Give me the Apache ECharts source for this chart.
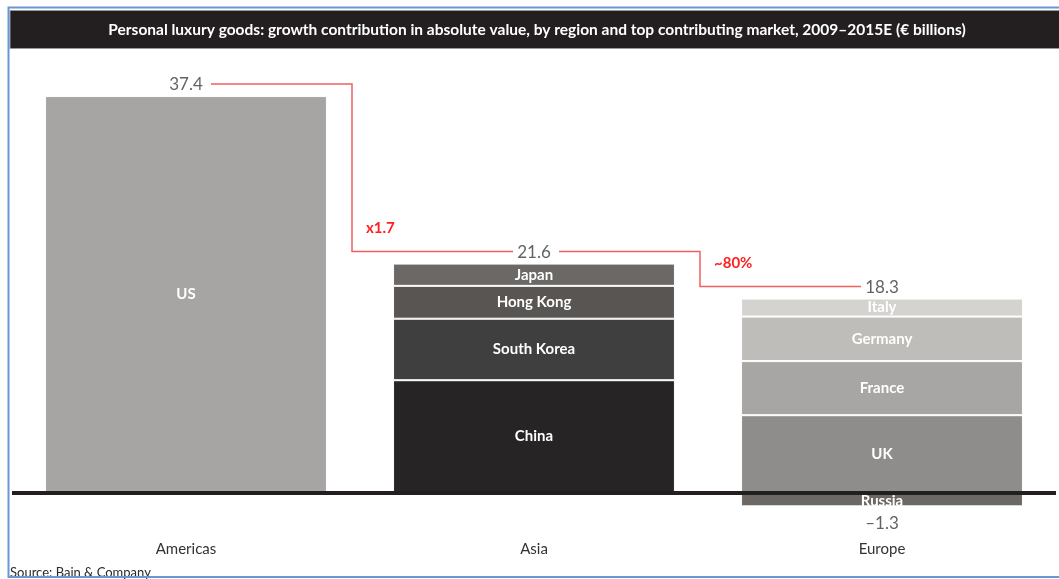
<!DOCTYPE html>
<html>
<head>
<meta charset="utf-8">
<script src="https://cdn.jsdelivr.net/npm/echarts@6/dist/echarts.min.js"></script>
<style>
  html, body { margin: 0; padding: 0; background: #fff; }
  #chart { width: 1059px; height: 579px; }
</style>
</head>
<body>
<div id="chart"></div>
<script>
// Headline and source text
const titleText = 'Personal luxury goods: growth contribution in absolute value, by region and top contributing market, 2009–2015E (€ billions)';
const sourceText = 'Source: Bain & Company';

// Regions (x categories) and their net growth contribution
const regions = ['Americas', 'Asia', 'Europe'];
const regionTotals = [37.4, 21.6, 18.3];
const regionDeclines = [null, null, -1.3];
const growthRatios = ['x1.7', '~80%'];

// Top contributing markets, stacked bottom-up inside each region
const marketNames  = ['US', 'China', 'South Korea', 'Hong Kong', 'Japan', 'UK', 'France', 'Germany', 'Italy', 'Russia'];
const marketRegion = [0, 1, 1, 1, 1, 2, 2, 2, 2, 2];
const marketValues = [37.4, 10.6, 5.8, 3.1, 2.1, 7.3, 5.1, 4.2, 1.7, -1.3];
const marketColors = ['#a7a5a3', '#262424', '#403f3f', '#585553', '#6b6865',
                      '#8f8d8b', '#a8a6a4', '#bfbdb9', '#d4d3cf', '#6b6865'];

const FONT = 'Lato, "Open Sans", "DejaVu Sans", sans-serif';
const chart = echarts.init(document.getElementById('chart'), null, { renderer: 'canvas' });

const marketSeries = marketNames.map((name, k) => ({
  name: name,
  type: 'bar',
  stack: 'region',
  barWidth: '81%',
  silent: true,
  data: regions.map((_, r) => (r === marketRegion[k] ? marketValues[k] : '-')),
  itemStyle: { color: marketColors[k], borderColor: '#ffffff', borderWidth: 1 },
  label: {
    show: true, position: 'inside', formatter: '{a}',
    // labels of negative segments sit just clear of the zero line
    offset: marketValues[k] < 0 ? [0, 2] : [0, 0],
    color: '#ffffff', fontFamily: FONT, fontWeight: 'bold', fontSize: 15
  }
}));

// Region totals printed above each stack, plus the bold zero line
const totalSeries = {
  type: 'scatter',
  symbolSize: 0,
  silent: true,
  z: 5,
  data: regionTotals.map((v, i) => [i, v]),
  label: {
    show: true, position: 'top', distance: 3,
    formatter: p => p.value[1].toFixed(1),
    color: '#3a3a3a', fontFamily: FONT, fontSize: 17
  },
  markLine: {
    silent: true, symbol: 'none', animation: false,
    label: { show: false },
    lineStyle: { color: '#231f20', width: 4, type: 'solid' },
    data: [{ yAxis: 0 }]
  }
};

// Negative contributions printed below the stack
const declineSeries = {
  type: 'scatter',
  symbolSize: 0,
  silent: true,
  z: 5,
  data: regionDeclines.map((v, i) => (v == null ? null : [i, v])).filter(d => d),
  label: {
    show: true, position: 'bottom', distance: 9,
    formatter: p => '–' + Math.abs(p.value[1]).toFixed(1),
    color: '#3a3a3a', fontFamily: FONT, fontSize: 17
  }
};

// Red step connectors between consecutive region totals, with the ratio note
const connectorSeries = {
  type: 'custom',
  silent: true,
  z: 6,
  data: regionTotals.slice(0, -1).map((v, i) => [i, v, regionTotals[i + 1]]),
  renderItem: (params, api) => {
    const i = api.value(0);
    const p1 = api.coord([i, api.value(1)]);
    const p2 = api.coord([i + 1, api.value(2)]);
    const y1 = p1[1] - 12;
    const y2 = p2[1] - 12;
    const xm = (p1[0] + p2[0]) / 2 - 8;
    return {
      type: 'group',
      children: [
        {
          type: 'polyline',
          shape: { points: [[p1[0] + 25, y1], [xm, y1], [xm, y2], [p2[0] - 21, y2]] },
          style: { stroke: '#f25f5f', lineWidth: 1.5, fill: 'none' }
        },
        {
          type: 'text',
          x: xm + 14, y: y2 - 23,
          style: {
            text: growthRatios[params.dataIndex],
            fill: '#ff2020', fontFamily: FONT, fontWeight: 'bold', fontSize: 15,
            align: 'left', verticalAlign: 'middle'
          }
        }
      ]
    };
  }
};

chart.setOption({
  animation: false,
  grid: { left: 12, right: 3, top: 68.5, bottom: 44 },
  xAxis: {
    type: 'category',
    data: regions,
    axisLine: { show: false, onZero: false },
    axisTick: { show: false },
    axisLabel: { margin: 7, color: '#333333', fontFamily: FONT, fontSize: 15 }
  },
  yAxis: {
    type: 'value',
    min: -4, max: 40, interval: 4,
    show: false,
    splitLine: { show: false }
  },
  series: [...marketSeries, totalSeries, declineSeries, connectorSeries],
  graphic: [
    {
      type: 'rect', z: 100, silent: true,
      shape: { x: 10, y: 10.5, width: 1060, height: 38 },
      style: { fill: '#231f20', stroke: '#9a9a9a', lineWidth: 1 }
    },
    {
      type: 'text', z: 101, silent: true,
      x: 537, y: 30,
      style: {
        text: titleText, fill: '#ffffff', fontFamily: FONT, fontWeight: 'bold', fontSize: 15.5,
        align: 'center', verticalAlign: 'middle'
      }
    },
    {
      type: 'text', z: 101, silent: true,
      x: 10, y: 579,
      style: {
        text: sourceText, fill: '#2a2a2a', fontFamily: FONT, fontSize: 13,
        align: 'left', verticalAlign: 'bottom'
      }
    },
    {
      type: 'rect', z: 102, silent: true,
      shape: { x: 8.5, y: 7.5, width: 1060, height: 569.5 },
      style: { fill: 'none', stroke: '#6a96d4', lineWidth: 2 }
    }
  ]
});
</script>
</body>
</html>
